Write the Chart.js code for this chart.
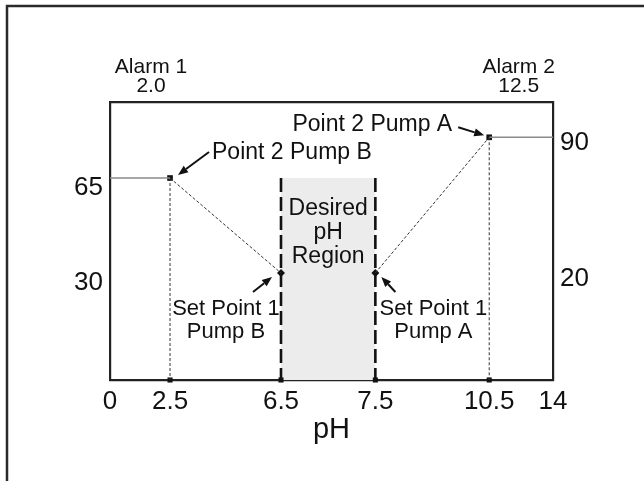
<!DOCTYPE html>
<html>
<head>
<meta charset="utf-8">
<script src="https://cdn.jsdelivr.net/npm/chart.js@4.4.1/dist/chart.umd.min.js"></script>
<style>
  html, body { margin: 0; padding: 0; background: #fff; }
  canvas { display: block; }
</style>
</head>
<body>
<canvas id="ph-chart" width="644" height="481"></canvas>
<script>
// ========================================
// DATA
// ========================================
const phTicks = [0, 2.5, 6.5, 7.5, 10.5, 14];
const alarmTicks = [2.0, 12.5];
const alarmNames = ['Alarm 1', 'Alarm 2'];
const leftTicks = [30, 65];    // Pump B output (left axis)
const rightTicks = [20, 90];   // Pump A output (right axis)

const pumpBpH = [0, 2.5, 6.5];
const pumpBOut = [65, 65, 30];
const pumpApH = [7.5, 10.5, 14];
const pumpAOut = [20, 90, 90];

const desiredRange = [6.5, 7.5];

// axis ranges (schematic drawing, not linear from zero)
const YL_MIN = -9.4, YL_MAX = 93;
const YR_MIN = -35.2, YR_MAX = 108.2;
// where each pH tick sits along the axis (0..1), the drawing is not to scale
const phAxisFrac = [0, 0.1355, 0.386, 0.599, 0.856, 1];

const FONT = '"Liberation Sans", Arial, Helvetica, sans-serif';
const INK = '#111';

// --- piecewise linear scale for the schematic pH axis ---
function phToFrac(v) {
    for (let i = 1; i < phTicks.length; i++) {
        if (v <= phTicks[i] || i === phTicks.length - 1) {
            const a = phTicks[i - 1], b = phTicks[i];
            const t = (v - a) / (b - a);
            return phAxisFrac[i - 1] + t * (phAxisFrac[i] - phAxisFrac[i - 1]);
        }
    }
    return 0;
}
function fracToPh(f) {
    for (let i = 1; i < phAxisFrac.length; i++) {
        if (f <= phAxisFrac[i] || i === phAxisFrac.length - 1) {
            const a = phAxisFrac[i - 1], b = phAxisFrac[i];
            const t = (f - a) / (b - a);
            return phTicks[i - 1] + t * (phTicks[i] - phTicks[i - 1]);
        }
    }
    return 0;
}
class PhScale extends Chart.LinearScale {
    getPixelForValue(value) {
        if (value === null || value === undefined) return NaN;
        return this.getPixelForDecimal(phToFrac(value));
    }
    getValueForPixel(pixel) {
        return fracToPh(this.getDecimalForPixel(pixel));
    }
}
PhScale.id = 'phscale';
PhScale.defaults = Chart.LinearScale.defaults;
Chart.register(PhScale);

const pts = (xs, ys) => xs.map((x, i) => ({ x: x, y: ys[i] }));

// --- datasets ---
const thinDash = [3, 2];
const datasets = [
    // shaded desired region
    {
        data: pts(desiredRange, [pumpBOut[0], pumpBOut[0]]),
        yAxisID: 'yL', showLine: true, fill: 'start',
        backgroundColor: '#ececec', borderWidth: 0, pointRadius: 0, order: 10
    },
    // pump B flat level
    {
        data: pts(pumpBpH.slice(0, 2), pumpBOut.slice(0, 2)),
        yAxisID: 'yL', showLine: true, borderColor: '#8a8a8a', borderWidth: 1.6, pointRadius: 0
    },
    // pump B ramp
    {
        data: pts(pumpBpH.slice(1), pumpBOut.slice(1)),
        yAxisID: 'yL', showLine: true, borderColor: '#333', borderWidth: 1, borderDash: thinDash, pointRadius: 0
    },
    // pump A ramp
    {
        data: pts(pumpApH.slice(0, 2), pumpAOut.slice(0, 2)),
        yAxisID: 'yR', showLine: true, borderColor: '#333', borderWidth: 1, borderDash: thinDash, pointRadius: 0
    },
    // pump A flat level
    {
        data: pts(pumpApH.slice(1), pumpAOut.slice(1)),
        yAxisID: 'yR', showLine: true, borderColor: '#8a8a8a', borderWidth: 1.6, pointRadius: 0
    },
    // drop lines from point 2
    {
        data: pts([pumpBpH[1], pumpBpH[1]], [pumpBOut[1], YL_MIN]),
        yAxisID: 'yL', showLine: true, borderColor: '#333', borderWidth: 1, borderDash: thinDash, pointRadius: 0
    },
    {
        data: pts([pumpApH[1], pumpApH[1]], [pumpAOut[1], YR_MIN]),
        yAxisID: 'yR', showLine: true, borderColor: '#333', borderWidth: 1, borderDash: thinDash, pointRadius: 0
    },
    // desired region bounds (heavy dashes)
    {
        data: pts([desiredRange[0], desiredRange[0]], [pumpBOut[0], YL_MIN]),
        yAxisID: 'yL', showLine: true, borderColor: '#111', borderWidth: 2.6, borderDash: [14, 5], pointRadius: 0
    },
    {
        data: pts([desiredRange[1], desiredRange[1]], [pumpBOut[0], YL_MIN]),
        yAxisID: 'yL', showLine: true, borderColor: '#111', borderWidth: 2.6, borderDash: [14, 5], pointRadius: 0
    },
    // point 2 markers
    {
        data: [{ x: pumpBpH[1], y: pumpBOut[1] }],
        yAxisID: 'yL', pointStyle: 'rect', pointRadius: 4, backgroundColor: '#111', borderColor: '#111', borderWidth: 0
    },
    {
        data: [{ x: pumpApH[1], y: pumpAOut[1] }],
        yAxisID: 'yR', pointStyle: 'rect', pointRadius: 4, backgroundColor: '#111', borderColor: '#111', borderWidth: 0
    },
    // set point 1 markers
    {
        data: [{ x: pumpBpH[2], y: pumpBOut[2] }],
        yAxisID: 'yL', pointStyle: 'rectRot', pointRadius: 4, backgroundColor: '#111', borderColor: '#111', borderWidth: 0
    },
    {
        data: [{ x: pumpApH[0], y: pumpAOut[0] }],
        yAxisID: 'yR', pointStyle: 'rectRot', pointRadius: 4, backgroundColor: '#111', borderColor: '#111', borderWidth: 0
    },
    // markers on the pH axis
    {
        data: phTicks.slice(1, 5).map(v => ({ x: v, y: YL_MIN })),
        yAxisID: 'yL', clip: false, pointStyle: 'rect', pointRadius: 3.6, backgroundColor: '#111', borderColor: '#111', borderWidth: 0
    }
];

// --- annotation text and arrows (offsets in px from the anchor point) ---
const notes = [
    { x: pumpBpH[1], y: pumpBOut[1], axis: 'yL', lines: ['Point 2 Pump B'], size: 23,
      tx: 42, ty: -27, align: 'left', arrow: [39, -26, 8, -3] },
    { x: pumpApH[1], y: pumpAOut[1], axis: 'yR', lines: ['Point 2 Pump A'], size: 23,
      tx: -37, ty: -14, align: 'right', arrow: [-31, -10, -5, -2] },
    { x: pumpBpH[2], y: pumpBOut[2], axis: 'yL', lines: ['Set Point 1', 'Pump B'], size: 22,
      tx: -55, ty: 34, align: 'center', arrow: [-28, 19, -9, 4] },
    { x: pumpApH[0], y: pumpAOut[0], axis: 'yR', lines: ['Set Point 1', 'Pump A'], size: 22,
      tx: 58, ty: 34, align: 'center', arrow: [20, 19, 6, 4] }
];

function drawArrow(ctx, x1, y1, x2, y2) {
    const ang = Math.atan2(y2 - y1, x2 - x1);
    const len = 10, half = 4;
    const bx = x2 - len * Math.cos(ang), by = y2 - len * Math.sin(ang);
    ctx.beginPath();
    ctx.moveTo(x1, y1);
    ctx.lineTo(bx, by);
    ctx.lineWidth = 2;
    ctx.strokeStyle = INK;
    ctx.stroke();
    ctx.beginPath();
    ctx.moveTo(x2, y2);
    ctx.lineTo(bx + half * Math.sin(ang), by - half * Math.cos(ang));
    ctx.lineTo(bx - half * Math.sin(ang), by + half * Math.cos(ang));
    ctx.closePath();
    ctx.fillStyle = INK;
    ctx.fill();
}

const notesPlugin = {
    id: 'notes',
    beforeDraw(chart) {
        const ctx = chart.ctx;
        ctx.save();
        ctx.fillStyle = '#fff';
        ctx.fillRect(0, 0, chart.width, chart.height);
        // outer frame (top and left edges)
        ctx.strokeStyle = '#2a2a2a';
        ctx.lineWidth = 2.5;
        ctx.beginPath();
        ctx.moveTo(7, chart.height);
        ctx.lineTo(7, 6);
        ctx.lineTo(chart.width, 6);
        ctx.stroke();
        ctx.restore();
    },
    afterDatasetsDraw(chart) {
        const ctx = chart.ctx;
        const xs = chart.scales.x;
        ctx.save();
        ctx.fillStyle = INK;
        ctx.textBaseline = 'alphabetic';

        // Desired pH Region label
        const rx = (xs.getPixelForValue(desiredRange[0]) + xs.getPixelForValue(desiredRange[1])) / 2;
        const ry = chart.scales.yL.getPixelForValue(pumpBOut[0]);
        ctx.font = '23px ' + FONT;
        ctx.textAlign = 'center';
        ['Desired', 'pH', 'Region'].forEach((t, i) => ctx.fillText(t, rx, ry + 37 + i * 24));

        notes.forEach(n => {
            const px = xs.getPixelForValue(n.x);
            const py = chart.scales[n.axis].getPixelForValue(n.y);
            ctx.font = n.size + 'px ' + FONT;
            ctx.textAlign = n.align;
            n.lines.forEach((t, i) => ctx.fillText(t, px + n.tx, py + n.ty + 8 + i * 23));
            const a = n.arrow;
            drawArrow(ctx, px + a[0], py + a[1], px + a[2], py + a[3]);
        });
        ctx.restore();
    }
};

const axisBorder = { display: true, color: '#222', width: 2.2 };
const tickFont = { family: FONT, size: 26 };

new Chart(document.getElementById('ph-chart'), {
    type: 'scatter',
    data: { datasets: datasets },
    options: {
        responsive: false,
        animation: false,
        devicePixelRatio: 1,
        layout: { padding: 0 },
        plugins: {
            legend: { display: false },
            tooltip: { enabled: false }
        },
        scales: {
            x: {
                type: 'phscale', position: 'bottom', min: 0, max: 14,
                grid: { display: false, drawTicks: false },
                border: axisBorder,
                afterBuildTicks: s => { s.ticks = phTicks.map(v => ({ value: v })); },
                afterFit: s => { s.height = 101; },
                ticks: { font: tickFont, color: INK, padding: 6, maxRotation: 0, autoSkip: false,
                         callback: v => String(v) },
                title: { display: true, text: 'pH', color: INK,
                         font: { family: FONT, size: 29 }, padding: { top: 0, bottom: 34 } }
            },
            xTop: {
                type: 'phscale', position: 'top', min: 0, max: 14,
                grid: { display: false, drawTicks: false },
                border: axisBorder,
                afterBuildTicks: s => { s.ticks = alarmTicks.map(v => ({ value: v })); },
                afterFit: s => { s.height = 102; },
                ticks: { font: { family: FONT, size: 21, lineHeight: 0.88 }, color: INK, padding: 7,
                         labelOffset: -7, maxRotation: 0, autoSkip: false,
                         callback: (v, i) => [alarmNames[i], v.toFixed(1)] }
            },
            yL: {
                type: 'linear', position: 'left', min: YL_MIN, max: YL_MAX,
                grid: { display: false, drawTicks: false },
                border: axisBorder,
                afterBuildTicks: s => { s.ticks = leftTicks.map(v => ({ value: v })); },
                afterFit: s => { s.width = 110; },
                ticks: { font: tickFont, color: INK, padding: 7, labelOffset: 10 }
            },
            yR: {
                type: 'linear', position: 'right', min: YR_MIN, max: YR_MAX,
                grid: { display: false, drawTicks: false },
                border: axisBorder,
                afterBuildTicks: s => { s.ticks = rightTicks.map(v => ({ value: v })); },
                afterFit: s => { s.width = 91; },
                ticks: { font: tickFont, color: INK, padding: 7, labelOffset: 6 }
            }
        }
    },
    plugins: [notesPlugin]
});
</script>
</body>
</html>
